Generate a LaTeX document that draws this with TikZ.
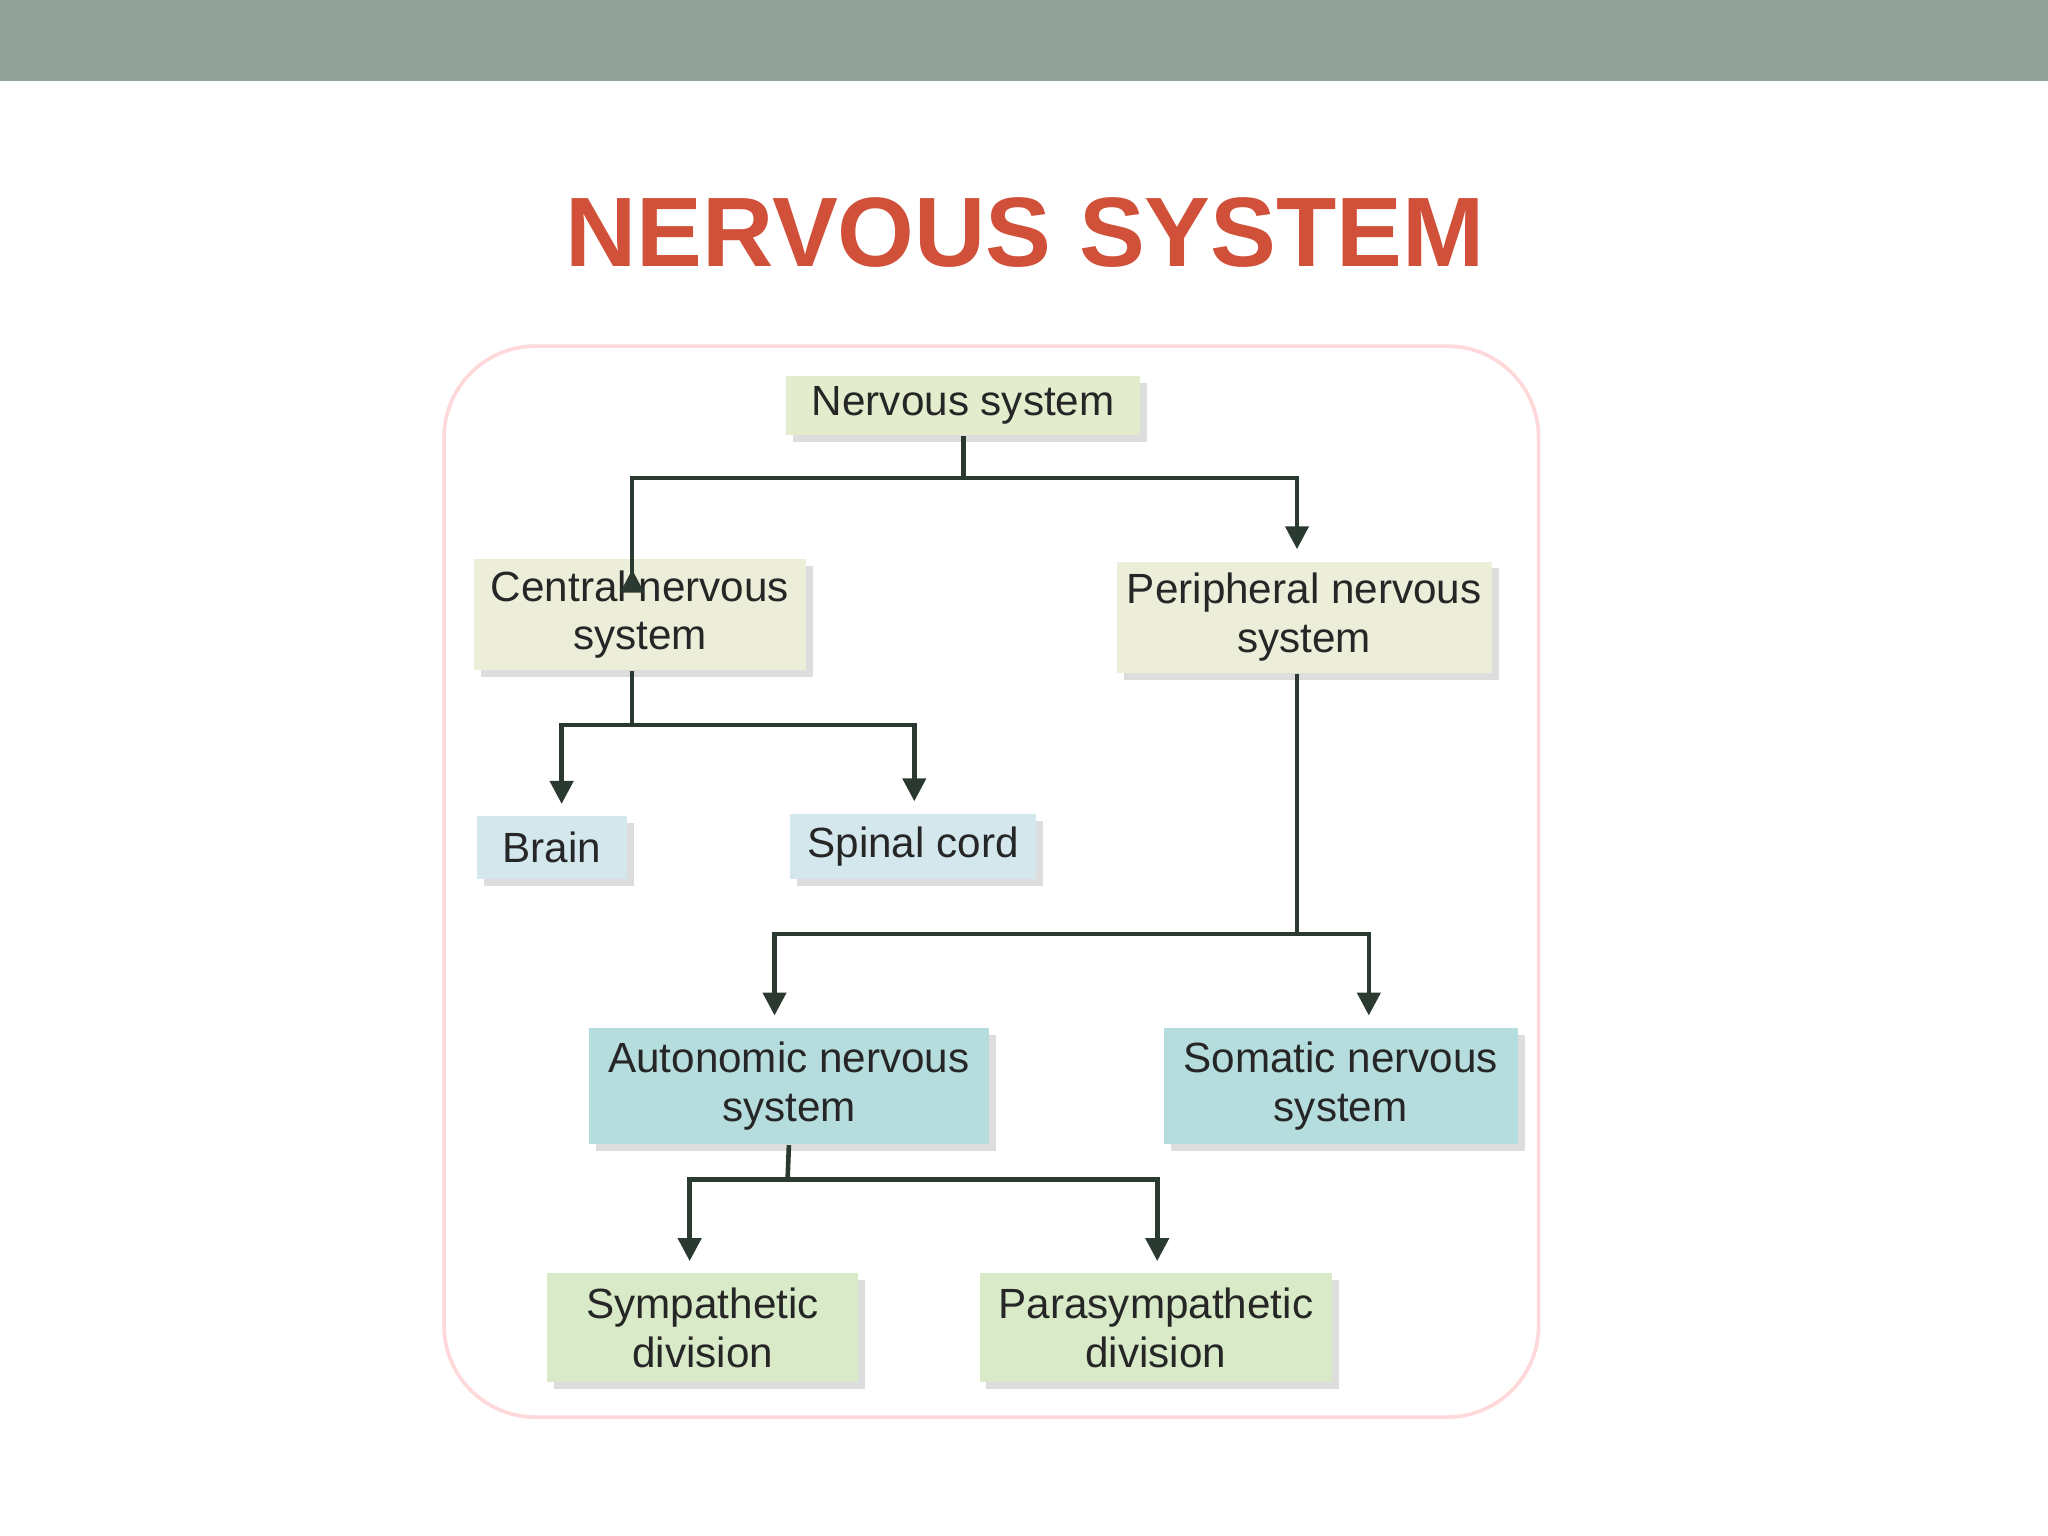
\documentclass[tikz,border=0pt]{standalone}
\usepackage{fontspec}
\setmainfont{Liberation Sans}
\usetikzlibrary{arrows.meta,shadows}
\definecolor{barcol}{HTML}{92A399}
\definecolor{titlered}{HTML}{D0503A}
\definecolor{linecol}{HTML}{2A3A30}
\definecolor{beige}{HTML}{ECEEDA}
\definecolor{paleblue}{HTML}{D3E7EC}
\definecolor{teal}{HTML}{B6DDDD}
\definecolor{palegreen}{HTML}{D8EAC8}
\definecolor{topgreen}{HTML}{E3ECCC}
\tikzset{
  box/.style={draw=none, align=center, inner sep=1pt,
    font=\fontsize{9.2}{10.6}\selectfont, text=black!85,
    drop shadow={shadow xshift=1.5pt, shadow yshift=-1.5pt, fill=gray!45, opacity=.6}},
  link/.style={draw=linecol, line width=1pt},
  arr/.style={link, -{Triangle[length=5pt,width=5pt]}, shorten >=2.5pt},
}
\begin{document}
\begin{tikzpicture}
  \useasboundingbox (0,0) rectangle (15.68,11.76);
  \fill[barcol] (0,11.14) rectangle (15.68,11.76);
  \node[text=titlered, font=\fontsize{21.5}{24}\selectfont\bfseries] (title) at (7.85,9.98) {NERVOUS SYSTEM};
  \draw[red!15, line width=0.8pt, rounded corners=0.7cm] (3.40,0.91) rectangle (11.78,9.11);

  % boxes
  \node[box, fill=topgreen, minimum width=2.71cm, minimum height=0.45cm] (ns) at (7.375,8.655) {Nervous system};
  \node[box, fill=beige, minimum width=2.54cm, minimum height=0.85cm] (cns) at (4.90,7.055) {Central nervous\\system};
  \node[box, fill=beige, minimum width=2.87cm, minimum height=0.85cm] (pns) at (9.985,7.035) {Peripheral nervous\\system};
  \node[box, fill=paleblue, minimum width=1.15cm, minimum height=0.48cm] (brain) at (4.225,5.27) {Brain};
  \node[box, fill=paleblue, minimum width=1.88cm, minimum height=0.50cm] (spinal) at (6.99,5.28) {Spinal cord};
  \node[box, fill=teal, minimum width=3.06cm, minimum height=0.89cm] (ans) at (6.04,3.445) {Autonomic nervous\\system};
  \node[box, fill=teal, minimum width=2.71cm, minimum height=0.89cm] (sns) at (10.265,3.445) {Somatic nervous\\system};
  \node[box, fill=palegreen, minimum width=2.38cm, minimum height=0.83cm] (sym) at (5.38,1.595) {Sympathetic\\division};
  \node[box, fill=palegreen, minimum width=2.70cm, minimum height=0.83cm] (para) at (8.85,1.595) {Parasympathetic\\division};

  % junctions
  \coordinate (j1) at (ns.south |- 0,8.10);
  \coordinate (j2) at (4.84,6.21);
  \coordinate (j3) at (9.93,4.61);
  \coordinate (j4) at (6.03,2.73);

  % connectors
  \draw[link] (ns.south) -- (j1);
  \draw[arr] (j1) -| (4.84,7.48) -- (cns.north -| 4.84,0);
  \draw[arr] (j1) -| (pns.north -| 9.93,0);
  \draw[link] (cns.south -| j2) -- (j2);
  \draw[arr] (j2) -| (brain.north -| 4.30,0);
  \draw[arr] (j2) -| (spinal.north -| 7.00,0);
  \draw[link] (pns.south -| j3) -- (j3);
  \draw[arr] (j3) -| (ans.north -| 5.93,0);
  \draw[arr] (j3) -| (sns.north -| 10.48,0);
  \draw[link] (ans.south) -- (j4);
  \draw[arr] (j4) -| (sym.north -| 5.28,0);
  \draw[arr] (j4) -| (para.north -| 8.86,0);
\end{tikzpicture}
\end{document}
